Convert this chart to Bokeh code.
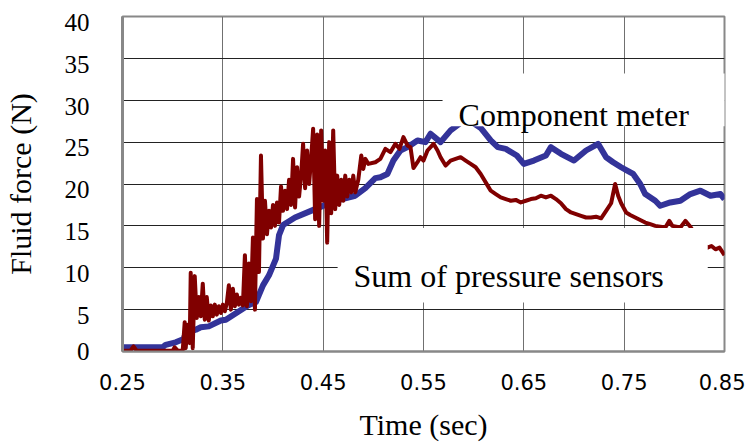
from bokeh.plotting import figure
from bokeh.models import Label, BoxAnnotation, Range1d, FixedTicker
from bokeh.embed import file_html
from bokeh.resources import INLINE

# ---- data ----
x_ticks = [0.25, 0.35, 0.45, 0.55, 0.65, 0.75, 0.85]
x_tick_labels = ["0.25", "0.35", "0.45", "0.55", "0.65", "0.75", "0.85"]
y_ticks = [0, 5, 10, 15, 20, 25, 30, 35, 40]
y_tick_labels = ["0", "5", "10", "15", "20", "25", "30", "35", "40"]

# Component meter (blue)
blue_t = [0.250, 0.290, 0.293, 0.303, 0.311, 0.313, 0.323, 0.328, 0.336, 0.348,
          0.353, 0.370, 0.375, 0.383, 0.390, 0.396, 0.403, 0.406, 0.410, 0.422,
          0.442, 0.462, 0.482, 0.492, 0.502, 0.507, 0.514, 0.520, 0.527, 0.534,
          0.544, 0.552, 0.557, 0.567, 0.577, 0.587, 0.597, 0.607, 0.617, 0.624,
          0.632, 0.643, 0.650, 0.660, 0.672, 0.677, 0.687, 0.700, 0.712, 0.724,
          0.732, 0.739, 0.747, 0.753, 0.759, 0.766, 0.771, 0.781, 0.786, 0.796,
          0.806, 0.816, 0.826, 0.836, 0.846, 0.850]
blue_v = [0.5, 0.5, 0.8, 1.1, 1.5, 2.2, 2.6, 2.9, 3.0, 3.7,
          3.8, 5.1, 5.5, 5.9, 7.9, 9.1, 11.1, 13.9, 15.1, 16.0,
          17.0, 18.0, 18.6, 19.5, 20.7, 20.8, 21.2, 22.8, 24.0, 24.4,
          25.2, 25.0, 26.0, 25.0, 26.4, 27.3, 27.5, 26.7, 25.2, 24.4,
          24.2, 23.4, 22.4, 22.8, 23.4, 24.4, 23.6, 22.8, 24.0, 24.8,
          23.2, 22.6, 22.0, 21.6, 21.2, 20.0, 18.8, 18.0, 17.4, 17.8,
          18.0, 18.8, 19.2, 18.6, 18.8, 18.2]

# Sum of pressure sensors (red)
red_t = [0.250, 0.258, 0.261, 0.264, 0.300, 0.302, 0.305, 0.310, 0.312, 0.313,
         0.315, 0.317, 0.318, 0.320, 0.322, 0.324, 0.326, 0.328, 0.330, 0.332,
         0.334, 0.336, 0.338, 0.340, 0.342, 0.344, 0.346, 0.348, 0.350, 0.352,
         0.354, 0.356, 0.358, 0.360, 0.362, 0.364, 0.366, 0.368, 0.370, 0.372,
         0.374, 0.376, 0.378, 0.380, 0.382, 0.384, 0.386, 0.388, 0.390, 0.392,
         0.394, 0.396, 0.398, 0.400, 0.402, 0.404, 0.406, 0.408, 0.410, 0.412,
         0.414, 0.416, 0.418, 0.420, 0.422, 0.424, 0.426, 0.428, 0.430, 0.432,
         0.434, 0.436, 0.438, 0.440, 0.442, 0.444, 0.446, 0.448, 0.450, 0.452,
         0.454, 0.456, 0.458, 0.460, 0.462, 0.464, 0.466, 0.468, 0.470, 0.472,
         0.474, 0.476, 0.478, 0.480, 0.482, 0.485, 0.488, 0.490, 0.492, 0.495,
         0.502, 0.507, 0.512, 0.517, 0.522, 0.526, 0.530, 0.534, 0.537, 0.540,
         0.544, 0.547, 0.550, 0.554, 0.560, 0.564, 0.567, 0.572, 0.577, 0.582,
         0.587, 0.592, 0.597, 0.602, 0.607, 0.615, 0.617, 0.622, 0.627, 0.632,
         0.637, 0.642, 0.647, 0.652, 0.657, 0.662, 0.667, 0.672, 0.677, 0.682,
         0.687, 0.692, 0.697, 0.702, 0.707, 0.712, 0.717, 0.722, 0.727, 0.732,
         0.737, 0.741, 0.744, 0.747, 0.752, 0.756, 0.761, 0.766, 0.771, 0.776,
         0.781, 0.786, 0.791, 0.795, 0.798, 0.802, 0.806, 0.811, 0.816, 0.824,
         0.833, 0.837, 0.841, 0.845, 0.850]
red_v = [0.1, 0.1, 0.6, 0.1, 0.1, 0.5, 0.1, 0.1, 3.5, 0.4,
         3.2, 1.0, 9.4, 0.4, 9.0, 4.0, 6.5, 4.2, 8.1, 3.8,
         6.5, 3.7, 5.5, 4.2, 5.6, 4.4, 5.4, 4.6, 5.6, 4.8,
         5.8, 7.9, 5.0, 7.5, 5.4, 6.8, 5.6, 6.4, 5.5, 11.5,
         5.4, 10.5, 6.0, 13.6, 5.0, 18.2, 9.5, 23.4, 13.5, 18.0,
         14.0, 16.8, 14.8, 17.5, 15.0, 17.8, 15.4, 19.7, 16.8, 19.2,
         17.0, 20.5, 17.5, 23.0, 17.2, 22.0, 18.5, 21.0, 24.8, 19.5,
         24.0, 20.0, 23.0, 26.6, 15.8, 25.9, 15.0, 26.4, 18.0, 24.0,
         13.0, 25.0, 16.5, 26.4, 17.0, 21.0, 17.5, 20.5, 18.0, 21.0,
         18.5, 20.5, 19.0, 21.0, 19.0, 20.5, 23.4, 21.8, 23.0, 22.4,
         22.6, 23.0, 24.2, 23.8, 24.8, 24.2, 25.6, 24.6, 24.4, 21.9,
         22.6, 23.2, 22.8, 24.0, 24.8, 24.0, 23.2, 22.2, 22.8, 23.0,
         23.2, 22.8, 22.4, 22.0, 21.2, 19.6, 19.2, 18.8, 18.4, 18.2,
         18.0, 18.1, 17.8, 18.0, 18.2, 18.3, 18.6, 18.4, 18.6, 18.2,
         17.7, 17.0, 16.6, 16.4, 16.2, 16.0, 16.0, 16.1, 15.9, 16.8,
         17.7, 20.0, 18.6, 17.7, 16.6, 16.3, 16.0, 15.7, 15.4, 15.2,
         15.0, 14.9, 14.8, 15.6, 15.0, 14.9, 14.8, 15.6, 14.9, 13.4,
         12.4, 12.6, 12.2, 12.4, 11.5]

series_names = ["Component meter", "Sum of pressure sensors"]

# ---- figure ----
p = figure(frame_width=602, frame_height=335,
           x_range=Range1d(0.25, 0.85), y_range=Range1d(0, 40),
           output_backend="svg", toolbar_location=None,
           min_border_left=122, min_border_right=21,
           min_border_top=16, min_border_bottom=80)
p.background_fill_color = "white"
p.border_fill_color = "white"
p.outline_line_color = "#888888"
p.outline_line_width = 2

# grids
p.xgrid.ticker = FixedTicker(ticks=x_ticks)
p.ygrid.ticker = FixedTicker(ticks=y_ticks)
p.xgrid.grid_line_color = "#707070"
p.xgrid.grid_line_width = 1
p.ygrid.grid_line_color = "#222222"
p.ygrid.grid_line_width = 1

# x axis
xa = p.xaxis[0]
xa.ticker = FixedTicker(ticks=x_ticks)
xa.major_label_overrides = {t: s for t, s in zip(x_ticks, x_tick_labels)}
xa.major_label_text_font = "DejaVu Sans"
xa.major_label_text_font_size = "21px"
xa.major_label_text_color = "black"
xa.major_label_standoff = 22
xa.major_tick_in = 0
xa.major_tick_out = 0
xa.minor_tick_line_color = None
xa.axis_line_color = "#888888"
xa.axis_line_width = 2
xa.axis_label = "Time (sec)"
xa.axis_label_text_font = "Liberation Serif"
xa.axis_label_text_font_size = "30px"
xa.axis_label_text_font_style = "normal"
xa.axis_label_text_color = "black"
xa.axis_label_standoff = 15

# y axis: labels sit slightly below their gridlines in the reference
# (kept inside the range so that the "0" label is still drawn)
label_drop = 0.7
y_label_pos = [max(v - label_drop, 0) for v in y_ticks]
ya = p.yaxis[0]
ya.ticker = FixedTicker(ticks=y_label_pos)
ya.major_label_overrides = {pos: s for pos, s in zip(y_label_pos, y_tick_labels)}
ya.major_label_text_font = "Liberation Serif"
ya.major_label_text_font_size = "25px"
ya.major_label_text_color = "black"
ya.major_label_standoff = 33
ya.major_tick_in = 0
ya.major_tick_out = 0
ya.minor_tick_line_color = None
ya.axis_line_color = "#888888"
ya.axis_line_width = 3
ya.axis_label = "Fluid force (N)"
ya.axis_label_text_font = "Liberation Serif"
ya.axis_label_text_font_size = "30px"
ya.axis_label_text_font_style = "normal"
ya.axis_label_text_color = "black"
ya.axis_label_standoff = 25

# series
p.line(blue_t, blue_v, line_color="#333399", line_width=6, line_join="round")
p.line(red_t, red_v, line_color="#800000", line_width=4, line_join="round")

# white label boxes with series names
p.add_layout(BoxAnnotation(left=0.569, right=0.86, bottom=26.9, top=33.2,
                           fill_color="white", fill_alpha=1.0, line_alpha=0))
p.add_layout(BoxAnnotation(left=0.4644, right=0.8333, bottom=5.85, top=14.75,
                           fill_color="white", fill_alpha=1.0, line_alpha=0))
p.add_layout(Label(x=0.585, y=28.2, text=series_names[0], text_baseline="alphabetic",
                   text_font="Liberation Serif", text_font_size="32px", text_color="black"))
p.add_layout(Label(x=0.4803, y=8.96, text=series_names[1], text_baseline="alphabetic",
                   text_font="Liberation Serif", text_font_size="32px", text_color="black"))

open("out.html", "w").write(file_html(p, INLINE))
